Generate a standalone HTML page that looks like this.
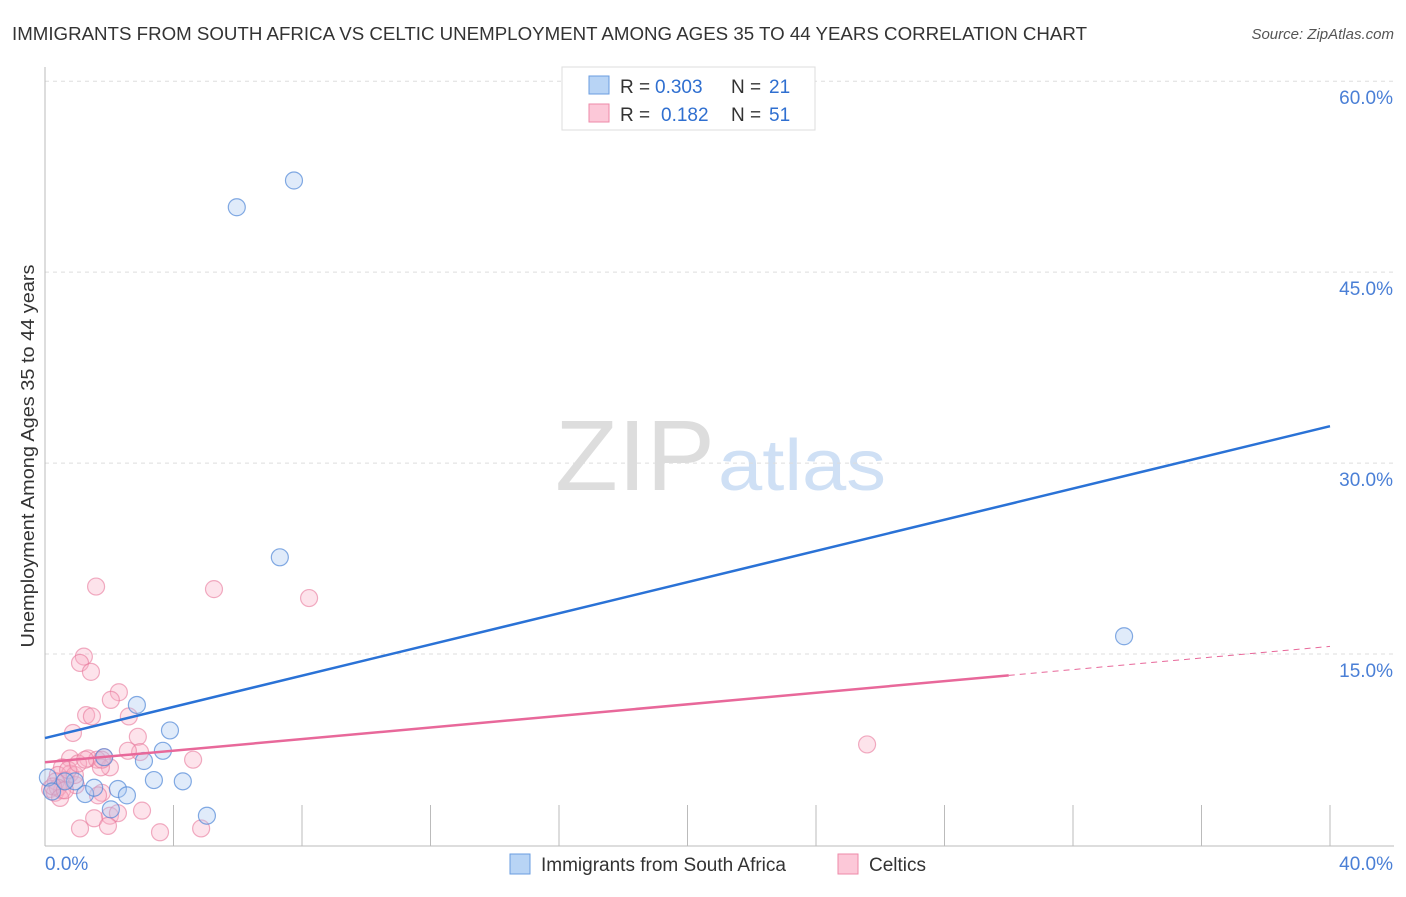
<!DOCTYPE html>
<html><head><meta charset="utf-8"><style>
body{margin:0;background:#fff;font-family:"Liberation Sans",sans-serif;}
svg text{font-family:"Liberation Sans",sans-serif;}
</style></head><body>
<svg id="c" width="1406" height="892">
<text x="12" y="40" font-size="18.5" fill="#333" textLength="1075" lengthAdjust="spacingAndGlyphs">IMMIGRANTS FROM SOUTH AFRICA VS CELTIC UNEMPLOYMENT AMONG AGES 35 TO 44 YEARS CORRELATION CHART</text>
<text x="1394" y="39" font-size="15" fill="#555" font-style="italic" text-anchor="end">Source: ZipAtlas.com</text>
<text x="555" y="490" font-size="100" fill="#ddd" textLength="160" lengthAdjust="spacingAndGlyphs" font-family="Liberation Serif">ZIP</text>
<text x="718" y="490" font-size="72" fill="#cfe0f5" textLength="168" lengthAdjust="spacingAndGlyphs">atlas</text>
<text transform="translate(34,456) rotate(-90)" font-size="18" fill="#333" text-anchor="middle" textLength="383" lengthAdjust="spacingAndGlyphs">Unemployment Among Ages 35 to 44 years</text>
<g id="grid"></g><g id="ticks"></g><g id="pts"></g><g id="lines"></g>
<g>
<rect x="562" y="67" width="253" height="63" fill="#fff" stroke="#ddd"/>
<rect x="589" y="76" width="20" height="18" fill="#b8d4f5" stroke="#6a9de0"/>
<rect x="589" y="104" width="20" height="18" fill="#fcc8d8" stroke="#ee8aa8"/>
<text x="620" y="93" font-size="19" fill="#333">R =</text>
<text x="655" y="93" font-size="19" fill="#2f6fd0">0.303</text>
<text x="731" y="93" font-size="19" fill="#333">N =</text>
<text x="769" y="93" font-size="19" fill="#2f6fd0">21</text>
<text x="620" y="121" font-size="19" fill="#333">R =</text>
<text x="661" y="121" font-size="19" fill="#2f6fd0">0.182</text>
<text x="731" y="121" font-size="19" fill="#333">N =</text>
<text x="769" y="121" font-size="19" fill="#2f6fd0">51</text>
</g>
<g>
<rect x="510" y="854" width="20" height="20" fill="#b8d4f5" stroke="#6a9de0"/>
<text x="541" y="871" font-size="19" fill="#333">Immigrants from South Africa</text>
<rect x="838" y="854" width="20" height="20" fill="#fcc8d8" stroke="#ee8aa8"/>
<text x="869" y="871" font-size="19" fill="#333">Celtics</text>
</g>
</svg>
<script>
const xTicks=[0,40];
const yTicks=[15,30,45,60];
const blueX=[5.97,7.75,7.31,33.59,2.86,3.89,3.67,3.08,3.39,4.29,1.84,1.25,1.53,2.27,2.55,2.05,5.04,0.93,0.09,0.22,0.62];
const blueY=[50.1,52.2,22.6,16.4,11.0,9.0,7.4,6.6,5.1,5.0,6.9,4.0,4.5,4.4,3.9,2.8,2.3,5.0,5.3,4.2,5.0];
const pinkX=[1.59,5.26,8.22,1.21,1.09,1.43,2.30,2.05,1.28,1.46,2.61,0.87,2.89,25.59,1.84,4.61,2.96,2.58,0.78,1.34,1.62,2.02,1.74,0.53,0.40,0.78,0.65,0.96,0.16,0.31,0.53,1.77,1.65,0.34,2.02,3.02,2.27,1.53,1.09,1.96,3.58,4.86,0.40,0.93,0.72,1.03,1.77,0.25,0.47,1.25,0.62];
const pinkY=[20.3,20.1,19.4,14.8,14.3,13.6,12.0,11.4,10.2,10.1,10.1,8.8,8.5,7.9,6.9,6.7,7.3,7.4,6.8,6.8,6.7,6.1,6.1,6.1,5.5,5.6,5.1,4.7,4.4,4.1,4.3,4.1,3.9,5.0,2.3,2.7,2.5,2.1,1.3,1.5,1.0,1.3,4.5,5.5,5.9,6.4,6.7,4.6,3.7,6.7,4.3];
const blueTrend=[8.4,32.9];
const pinkTrend=[6.5,15.6];
const X=v=>45+v*32.125, Y=v=>845-v*12.73;
const NS='http://www.w3.org/2000/svg';
function mk(p,t,a){const e=document.createElementNS(NS,t);for(const k in a)e.setAttribute(k,a[k]);p.appendChild(e);return e;}
const g=document.getElementById('grid'),tk=document.getElementById('ticks'),pts=document.getElementById('pts'),ln=document.getElementById('lines');
yTicks.forEach(v=>{
const l=mk(g,'line',{x1:45,x2:1394,y1:Y(v),y2:Y(v),stroke:'#ddd','stroke-dasharray':'4,4'});


const t=mk(g,'text',{x:1393,y:Y(v)+23,'font-size':19,fill:'#4a7fd6','text-anchor':'end'});t.textContent=v.toFixed(1)+'%';


});
mk(tk,'line',{x1:45,x2:45,y1:67,y2:846,stroke:'#bbb'});
mk(tk,'line',{x1:45,x2:1394,y1:846,y2:846,stroke:'#bbb'});
for(let i=1;i<=10;i++){mk(tk,'line',{x1:X(i*4),x2:X(i*4),y1:805,y2:846,stroke:'#bbb'});}
xTicks.forEach((v,i)=>{const t=mk(tk,'text',{x:i==0?45:1393,y:870,'font-size':19,fill:'#4a7fd6','text-anchor':i==0?'start':'end'});t.textContent=v.toFixed(1)+'%';

});
pinkX.forEach((v,i)=>{const c=mk(pts,'circle',{cx:X(v),cy:Y(pinkY[i]),r:8.5,fill:'rgba(248,175,198,0.35)',stroke:'rgba(232,120,155,0.6)','stroke-width':1.2});

});
blueX.forEach((v,i)=>{const c=mk(pts,'circle',{cx:X(v),cy:Y(blueY[i]),r:8.5,fill:'rgba(165,198,240,0.35)',stroke:'rgba(80,135,215,0.7)','stroke-width':1.2});

});
const bl=mk(ln,'line',{x1:X(0),y1:Y(blueTrend[0]),x2:X(40),y2:Y(blueTrend[1]),stroke:'#2a72d6','stroke-width':2.5});


const py=x=>pinkTrend[0]+(pinkTrend[1]-pinkTrend[0])*x/40;
const pl=mk(ln,'line',{x1:X(0),y1:Y(py(0)),x2:X(30),y2:Y(py(30)),stroke:'#e8689a','stroke-width':2.5});


const pd=mk(ln,'line',{x1:X(30),y1:Y(py(30)),x2:X(40),y2:Y(py(40)),stroke:'#e8689a','stroke-width':1,'stroke-dasharray':'6,5'});


</script>
</body></html>
